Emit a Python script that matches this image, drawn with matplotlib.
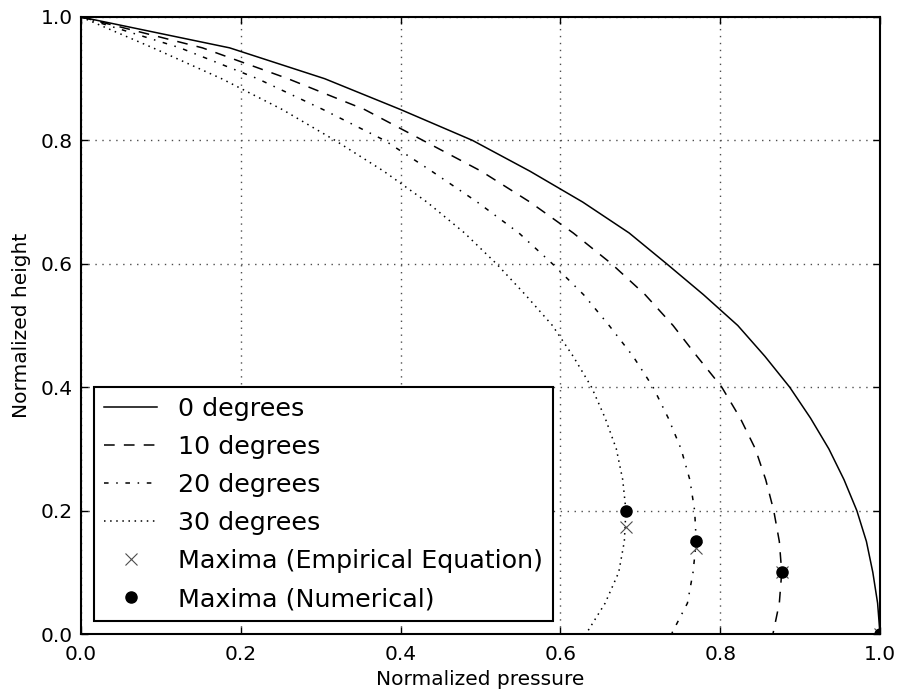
import matplotlib
matplotlib.use("Agg")
import matplotlib.pyplot as plt

heights = [1.0, 0.95, 0.9, 0.85, 0.8, 0.75, 0.7, 0.65, 0.6, 0.55, 0.5,
           0.45, 0.4, 0.35, 0.3, 0.25, 0.2, 0.15, 0.1, 0.05, 0.0]
p_0deg = [0.0, 0.186, 0.305, 0.40, 0.49, 0.562, 0.628, 0.686, 0.733, 0.779, 0.822,
          0.856, 0.887, 0.913, 0.936, 0.955, 0.971, 0.983, 0.991, 0.997, 1.0]
p_10deg = [0.0, 0.152, 0.259, 0.355, 0.428, 0.501, 0.562, 0.616, 0.664, 0.706, 0.741,
           0.771, 0.802, 0.825, 0.844, 0.857, 0.867, 0.874, 0.877, 0.874, 0.866]
p_20deg = [0.0, 0.124, 0.221, 0.303, 0.38, 0.439, 0.496, 0.548, 0.59, 0.629, 0.661,
           0.691, 0.716, 0.735, 0.751, 0.762, 0.768, 0.770, 0.766, 0.759, 0.739]
p_30deg = [0.0, 0.09, 0.176, 0.252, 0.318, 0.379, 0.433, 0.48, 0.52, 0.556, 0.59,
           0.616, 0.639, 0.656, 0.67, 0.678, 0.682, 0.680, 0.673, 0.656, 0.632]

emp_x = [1.0, 0.877, 0.770, 0.682]
emp_y = [0.0, 0.100, 0.140, 0.173]
num_x = [1.0, 0.877, 0.770, 0.682]
num_y = [0.0, 0.100, 0.150, 0.200]

xticks = [0.0, 0.2, 0.4, 0.6, 0.8, 1.0]
yticks = [0.0, 0.2, 0.4, 0.6, 0.8, 1.0]

fig = plt.figure(figsize=(8.98, 6.93), dpi=100)
ax = fig.add_axes([81/898, 1-634/693, 799/898, 617/693])

ax.plot(p_0deg, heights, 'k-', lw=1.1, label='0 degrees')
ax.plot(p_10deg, heights, 'k--', lw=1.1, dashes=(7, 6), label='10 degrees')
ax.plot(p_20deg, heights, 'k-.', lw=1.1, dashes=(3, 5, 1, 5), label='20 degrees')
ax.plot(p_30deg, heights, 'k:', lw=1.1, dashes=(1, 3), label='30 degrees')
ax.plot(emp_x, emp_y, 'x', color='0.3', ms=8, mew=0.8,
        label='Maxima (Empirical Equation)')
ax.plot(num_x, num_y, 'o', color='k', ms=8, label='Maxima (Numerical)')

ax.set_xlim(0, 1)
ax.set_ylim(0, 1)
ax.set_xticks(xticks)
ax.set_yticks(yticks)
ax.set_xticklabels([f"{t:.1f}" for t in xticks])
ax.set_yticklabels([f"{t:.1f}" for t in yticks])
ax.tick_params(axis='x', direction='in', top=True, length=5, width=1,
               labelsize=14.5, pad=8)
ax.tick_params(axis='y', direction='in', right=True, length=5, width=1,
               labelsize=14.5, pad=6)
ax.grid(True, linestyle=(0, (1, 4)), color='0.3', lw=1)
for s in ax.spines.values():
    s.set_linewidth(1.5)
ax.set_xlabel('Normalized pressure', fontsize=14.5, labelpad=4)
ax.set_ylabel('Normalized height', fontsize=14.5, labelpad=7)

leg = ax.legend(loc='lower left', fontsize=18.3,
                numpoints=1, handlelength=2.1, handletextpad=0.8,
                fancybox=False, framealpha=1, edgecolor='k',
                borderaxespad=0.5, borderpad=0.4, labelspacing=0.55)
leg.get_frame().set_linewidth(1.5)

fig.savefig('out.png', dpi=100, facecolor='white')
